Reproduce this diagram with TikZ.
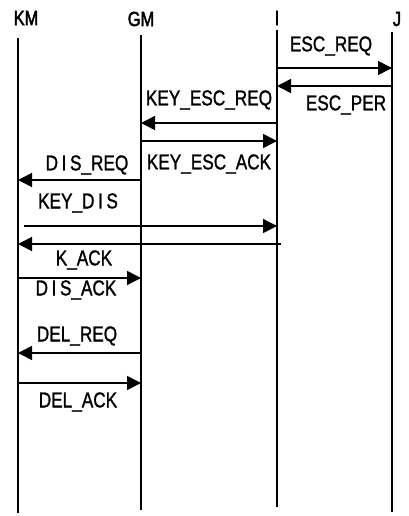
\documentclass[tikz,border=0pt]{standalone}
\usepackage{fontspec}
\setmainfont{Liberation Sans}[FakeStretch=0.8,FakeBold=1.2]
\newfontfamily\headfont{Liberation Sans}[FakeStretch=0.8,FakeBold=2.2]
\usetikzlibrary{arrows.meta}
\begin{document}
\begin{tikzpicture}[x=1pt,y=-1pt,
  life/.style={line width=1.8pt},
  msg/.style={line width=1.6pt,-{Triangle[length=14pt,width=14pt]}},
  lbl/.style={inner sep=0pt,font=\fontsize{21.5}{21.5}\selectfont},
  head/.style={inner sep=0pt,font=\headfont\fontsize{20.5}{20.5}\selectfont}]
\useasboundingbox (0,0) rectangle (409,516);
% headers
\node[head] (hKM) at (26,18) {KM};
\node[head] (hGM) at (141,19) {GM};
\node[head] (hI) at (277,18) {I};
\node[head] (hJ) at (397,19) {J};
% lifelines
\coordinate (km0) at (18,38); \coordinate (km1) at (18,513);
\coordinate (gm0) at (141,35); \coordinate (gm1) at (141,510);
\coordinate (i0) at (277,30); \coordinate (i1) at (277,507);
\coordinate (j0) at (392,32); \coordinate (j1) at (392,512);
\draw[life] (km0) -- (km1);
\draw[life] (gm0) -- (gm1);
\draw[life] (i0) -- (i1);
\draw[life] (j0) -- (j1);
% message endpoints
\coordinate (a1) at (277,68);  \coordinate (b1) at (392,68);
\coordinate (a2) at (392,86);  \coordinate (b2) at (277,86);
\coordinate (a3) at (277,123); \coordinate (b3) at (141,123);
\coordinate (a4) at (141,141); \coordinate (b4) at (277,141);
\coordinate (a5) at (141,180); \coordinate (b5) at (18,180);
\coordinate (a6) at (24,226);  \coordinate (b6) at (277,226);
\coordinate (a7) at (281,244); \coordinate (b7) at (18,244);
\coordinate (a8) at (18,278);  \coordinate (b8) at (141,278);
\coordinate (a9) at (141,353); \coordinate (b9) at (18,353);
\coordinate (a10) at (18,383); \coordinate (b10) at (141,383);
\draw[msg] (a1) -- (b1);
\draw[msg] (a2) -- (b2);
\draw[msg] (a3) -- (b3);
\draw[msg] (a4) -- (b4);
\draw[msg] (a5) -- (b5);
\draw[msg] (a6) -- (b6);
\draw[msg] (a7) -- (b7);
\draw[msg] (a8) -- (b8);
\draw[msg] (a9) -- (b9);
\draw[msg] (a10) -- (b10);
% labels
\node[lbl] (l1) at (331,46) {ESC\_REQ};
\node[lbl] (l2) at (346,105) {ESC\_PER};
\node[lbl] (l3) at (209,100) {KEY\_ESC\_REQ};
\node[lbl] (l4) at (209,164) {KEY\_ESC\_ACK};
\node[lbl] (l5) at (87,165) {D\,I\,S\_REQ};
\node[lbl] (l6) at (78,203) {KEY\_D\,I\,S};
\node[lbl] (l7) at (84,260) {K\_ACK};
\node[lbl] (l8) at (76,290) {D\,I\,S\_ACK};
\node[lbl] (l9) at (77,336) {DEL\_REQ};
\node[lbl] (l10) at (78,402) {DEL\_ACK};
\end{tikzpicture}
\end{document}
